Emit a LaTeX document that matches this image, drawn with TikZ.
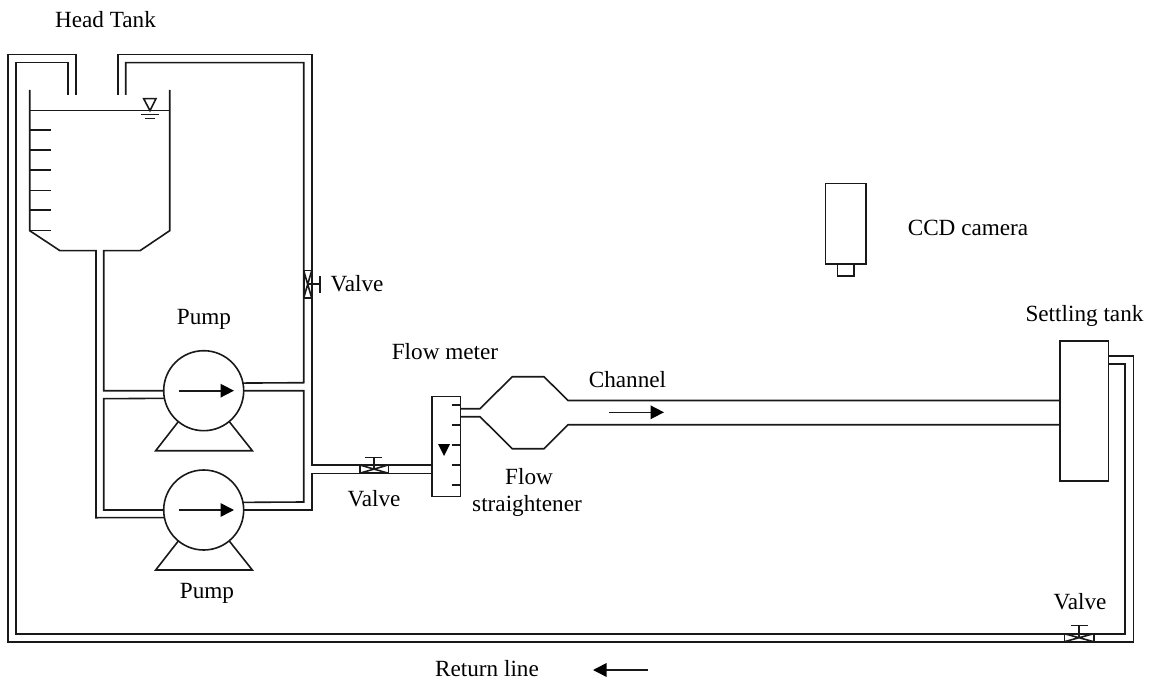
\documentclass[tikz,border=0pt]{standalone}
\usepackage{fontspec}
\setmainfont{Liberation Serif}
\usetikzlibrary{arrows.meta}
\tikzset{
  ln/.style={draw=black!90,line width=1.6pt,line join=miter},
  lbl/.style={anchor=base,inner sep=0pt,font=\fontsize{23.2}{27}\selectfont},
  pumpc/.style={circle,ln,minimum size=80pt,inner sep=0pt,outer sep=0pt},
  valvebox/.style={rectangle,ln,inner sep=0pt,outer sep=0pt,
    path picture={\draw[ln] (path picture bounding box.north west)--(path picture bounding box.south east)
      (path picture bounding box.north east)--(path picture bounding box.south west);}},
  flow/.style={ln,-{Triangle[length=13.5pt,width=13.5pt,color=black]}},
}
\begin{document}
\begin{tikzpicture}[x=1pt,y=-1pt]
\useasboundingbox (0,0) rectangle (1160,687);
% texts
\node[lbl] (t1) at (105.5,28) {Head Tank};
\node[lbl] (t2) at (357,292) {Valve};
\node[lbl] (t3) at (204,324) {Pump};
\node[lbl] (t4) at (445,359) {Flow meter};
\node[lbl] (t5) at (627.5,387.5) {Channel};
\node[lbl] (t6) at (529,484) {Flow};
\node[lbl] (t7) at (527,511) {straightener};
\node[lbl] (t8) at (374,506) {Valve};
\node[lbl] (t9) at (207,598) {Pump};
\node[lbl] (t10) at (1084.5,321) {Settling tank};
\node[lbl] (t11) at (1080,609) {Valve};
\node[lbl] (t12) at (968,236) {CCD camera};
\node[lbl] (t13) at (487,676) {Return line};
% pumps
\node[pumpc] (p1) at (203.7,390.7) {};
\node[pumpc] (p2) at (203.7,510) {};
\coordinate (a1s) at (179.3,390.7); \coordinate (a1e) at (234,390.7);
\coordinate (a2s) at (179.3,510); \coordinate (a2e) at (234,510);
\draw[flow] (a1s)--(a1e);
\draw[flow] (a2s)--(a2e);
\draw[ln] (178.3,421.7)--(155.7,450.7)--(252.3,450.7)--(229.3,421.7);
\draw[ln] (178.3,541)--(155.7,570)--(252.3,570)--(229.3,541);
% tank
\draw[ln] (29.7,90)--(29.7,230.7)--(60,250.7)--(96,250.7)--(96,517.7)--(p2.191.5);
\draw[ln] (169.7,90)--(169.7,230.7)--(140,250.7)--(103.7,250.7)--(103.7,390.7)--(p1.west);
\draw[ln] (29.7,110.7)--(169.7,110.7);
\foreach \yy in {130.3,150.3,170.3,190.5,210.3,230.7} \draw[ln] (29.7,\yy)--(50.7,\yy);
\draw[ln] (143.7,98.7)--(156,98.7)--(150,110.7)--cycle;
\draw[ln] (141,114.7)--(159,114.7) (145,118.7)--(155,118.7);
% pump piping
\draw[ln] (p1.191.5)--(103.7,398.7)--(103.7,510)--(p2.west);
\draw[ln] (p1.11.5)--(303.7,382.7)--(303.7,62.7)--(125.7,62.7)--(125.7,95);
\draw[ln] (p1.east)--(303.7,390.7)--(303.7,502)--(p2.11.5);
\draw[ln] (p2.east)--(311.7,510)--(311.7,473.3)--(431.7,473.3);
\draw[ln] (118,95)--(118,54.5)--(311.7,54.5)--(311.7,465)--(431.7,465);
% flow meter
\node[rectangle,ln,minimum width=28.6pt,minimum height=100pt,inner sep=0pt,outer sep=0pt] (fm) at (446,446.3) {};
\foreach \yy in {405,425,444.7,464.7,485} \draw[ln] (451.7,\yy)--(460.3,\yy);
\fill[black] (438,444)--(450,444)--(444,456)--cycle;
% valves
\node[valvebox,minimum width=28.6pt,minimum height=8.3pt] (v1) at (374,469.1) {};
\draw[ln] (v1.center)--(374,457.3) (365.3,457.3)--(382,457.3);
\node[valvebox,minimum width=8pt,minimum height=27.3pt] (v2) at (307.7,284.3) {};
\draw[ln] (v2.center)--(320,284.3) (320,276)--(320,292.7);
\node[valvebox,minimum width=29.4pt,minimum height=8pt] (v3) at (1079,637.7) {};
\draw[ln] (v3.center)--(1079,625.3) (1070.7,625.3)--(1087.7,625.3);
% channel and straightener
\node[rectangle,ln,minimum width=48.6pt,minimum height=140pt,inner sep=0pt,outer sep=0pt] (st) at (1084,410.7) {};
\draw[ln] (460.3,408.7)--(480,408.7)--(512.3,376.7)--(544,376.7)--(568,400.5)--(1059.7,400.5);
\draw[ln] (460.3,416.7)--(480,416.7)--(512.3,448.7)--(544,448.7)--(568,424.7)--(1059.7,424.7);
\coordinate (c1) at (609,412.3); \coordinate (c2) at (664,412.3);
\draw[flow] (c1)--(c2);
% return line
\draw[ln] (1108.3,356)--(1133.3,356)--(1133.3,641.7)--(8,641.7)--(8,54.5)--(76,54.5)--(76,95);
\draw[ln] (1108.3,364)--(1125,364)--(1125,633.7)--(16,633.7)--(16,62.7)--(68,62.7)--(68,95);
\coordinate (r1) at (648,670); \coordinate (r2) at (593,670);
\draw[flow] (r1)--(r2);
% camera
\node[rectangle,ln,minimum width=40.3pt,minimum height=80.3pt,inner sep=0pt,outer sep=0pt] (cam) at (845.8,223.8) {};
\node[rectangle,ln,minimum width=16.7pt,minimum height=12pt,inner sep=0pt,outer sep=0pt,anchor=north] (lens) at (cam.south) {};
\end{tikzpicture}
\end{document}
